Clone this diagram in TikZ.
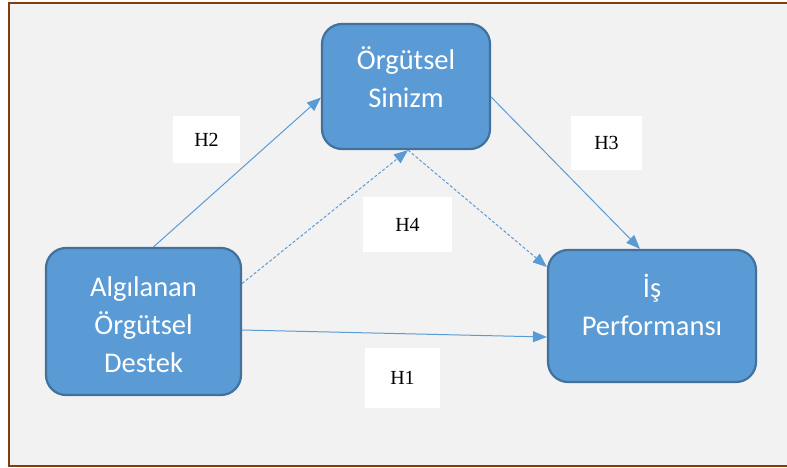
\documentclass[tikz,border=0pt]{standalone}
\usepackage{fontspec}
\setmainfont{Liberation Serif}
\newfontfamily\boxfont{Carlito}
\usetikzlibrary{arrows.meta, positioning}

\definecolor{boxblue}{HTML}{5B9BD5}
\definecolor{boxedge}{HTML}{41719C}
\definecolor{framebrown}{HTML}{843C0C}
\definecolor{paper}{HTML}{F2F2F2}

\begin{document}
\begin{tikzpicture}[
    x=1pt, y=-1pt,
    box/.style={draw=boxedge, line width=2.2pt, fill=boxblue, rounded corners=20pt,
      text=white, align=center, inner sep=0pt,
      font=\boxfont\fontsize{28.5}{38}\selectfont},
    hyp/.style={fill=white, inner sep=0pt, font=\fontsize{20}{24}\selectfont},
    arrow/.style={-{Triangle[length=14pt, width=11pt]}, draw=boxblue, line width=1pt},
    dasharrow/.style={arrow, dash pattern=on 3pt off 2pt}
]
  \useasboundingbox (0,0) rectangle (787,468);
  \fill[paper] (9,3) rectangle (787,466);
  \draw[framebrown, line width=2pt] (787,3) -- (9,3) -- (9,466) -- (787,466);

  % constructs
  \node[box, minimum width=168pt, minimum height=125pt, text height=84pt, text depth=41pt]
    (sin) at (406,86.5) {Örgütsel\\Sinizm};
  \node[box, minimum width=195pt, minimum height=147pt, text height=124pt, text depth=23pt]
    (alg) at (143.5,321.5) {Algılanan\\Örgütsel\\Destek};
  \node[box, minimum width=208pt, minimum height=132pt, text height=85pt, text depth=47pt]
    (perf) at (652,316) {İş\\Performansı};

  % hypotheses
  \node[hyp, minimum width=67pt, minimum height=47pt] (h2) at (206.5,139.5) {H2};
  \node[hyp, minimum width=71pt, minimum height=54pt] (h3) at (606.5,143) {H3};
  \node[hyp, minimum width=89pt, minimum height=55pt] (h4) at (407.5,224.5) {H4};
  \node[hyp, minimum width=75pt, minimum height=60pt] (h1) at (402.5,378) {H1};

  \draw[arrow] ([xshift=10pt]alg.north) -- ([yshift=-11pt]sin.west);
  \draw[dasharrow] ([yshift=38pt]alg.east) -- ([xshift=2pt]sin.south);
  \draw[dasharrow] ([xshift=2pt]sin.south) -- ([yshift=49pt]perf.west);
  \draw[arrow] ([yshift=-10.5pt]sin.east) -- ([xshift=-12pt]perf.north);
  \draw[arrow] ([yshift=-8.5pt]alg.east) -- ([yshift=-21pt]perf.west);
\end{tikzpicture}
\end{document}
